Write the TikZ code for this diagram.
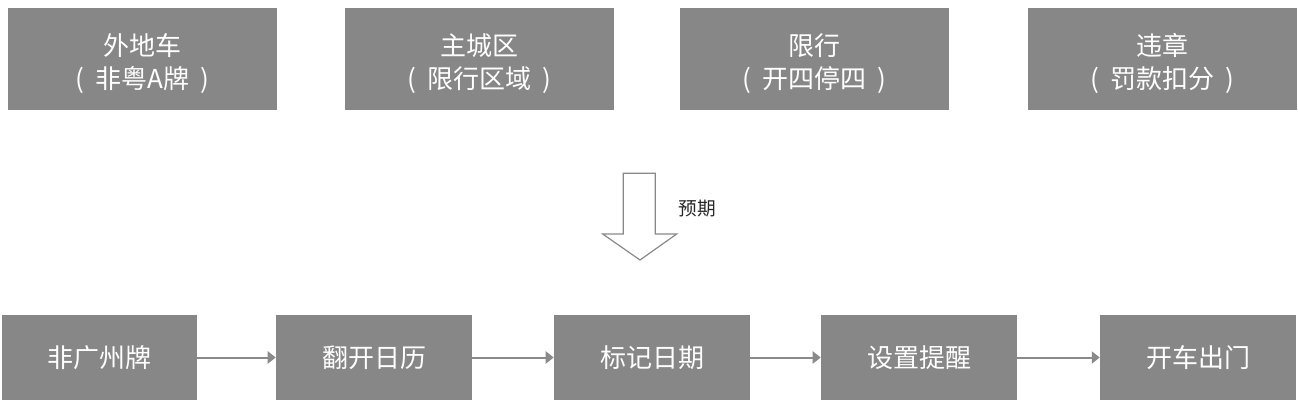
\documentclass[tikz,border=0pt]{standalone}
\usepackage{fontspec}
\setmainfont{Noto Sans CJK SC}
\usetikzlibrary{arrows.meta}
\definecolor{boxgray}{HTML}{878787}
\definecolor{linegray}{HTML}{8A8A8A}
\newcommand{\pl}{(\hspace{0.42em}}
\newcommand{\pr}{\hspace{0.42em})}
\begin{document}
\begin{tikzpicture}[x=0.75pt,y=-0.75pt,
  gbox/.style={fill=boxgray,draw=none,text=white,align=center,font=\fontsize{19.5}{25}\selectfont},
  tbox/.style={gbox,minimum width=269*0.75pt,minimum height=102*0.75pt},
  bbox/.style={gbox,minimum width=196*0.75pt,minimum height=85*0.75pt},
  flow/.style={draw=linegray,line width=1.5pt,-{Triangle[length=6pt,width=9pt]}}]
\path[use as bounding box,fill=white] (0,0) rectangle (1298,402);
% top boxes
\node[tbox] (t1) at (142.5,59) {\rule{0pt}{23pt}外地车\\\pl 非粤A牌\pr};
\node[tbox] (t2) at (479.5,59) {\rule{0pt}{23pt}主城区\\\pl 限行区域\pr};
\node[tbox] (t3) at (814.5,59) {\rule{0pt}{23pt}限行\\\pl 开四停四\pr};
\node[tbox] (t4) at (1162.5,59) {\rule{0pt}{23pt}违章\\\pl 罚款扣分\pr};
% big hollow arrow
\draw[draw=linegray,line width=0.9pt,fill=white] (623.3,173.3) -- (655.3,173.3) -- (655.3,234) -- (676.7,234) -- (640,260) -- (602.7,234) -- (623.3,234) -- cycle;
\node[font=\fontsize{14}{16}\selectfont,text=black!85] (lbl) at (697,209) {预期};
% bottom boxes
\node[bbox,minimum width=195*0.75pt] (b1) at (99.5,357.5) {非广州牌};
\node[bbox] (b2) at (374,357.5) {翻开日历};
\node[bbox] (b3) at (652,357.5) {标记日期};
\node[bbox] (b4) at (919,357.5) {设置提醒};
\node[bbox] (b5) at (1198,357.5) {开车出门};
\draw[flow] (b1) -- (b2);
\draw[flow] (b2) -- (b3);
\draw[flow] (b3) -- (b4);
\draw[flow] (b4) -- (b5);
\end{tikzpicture}
\end{document}
